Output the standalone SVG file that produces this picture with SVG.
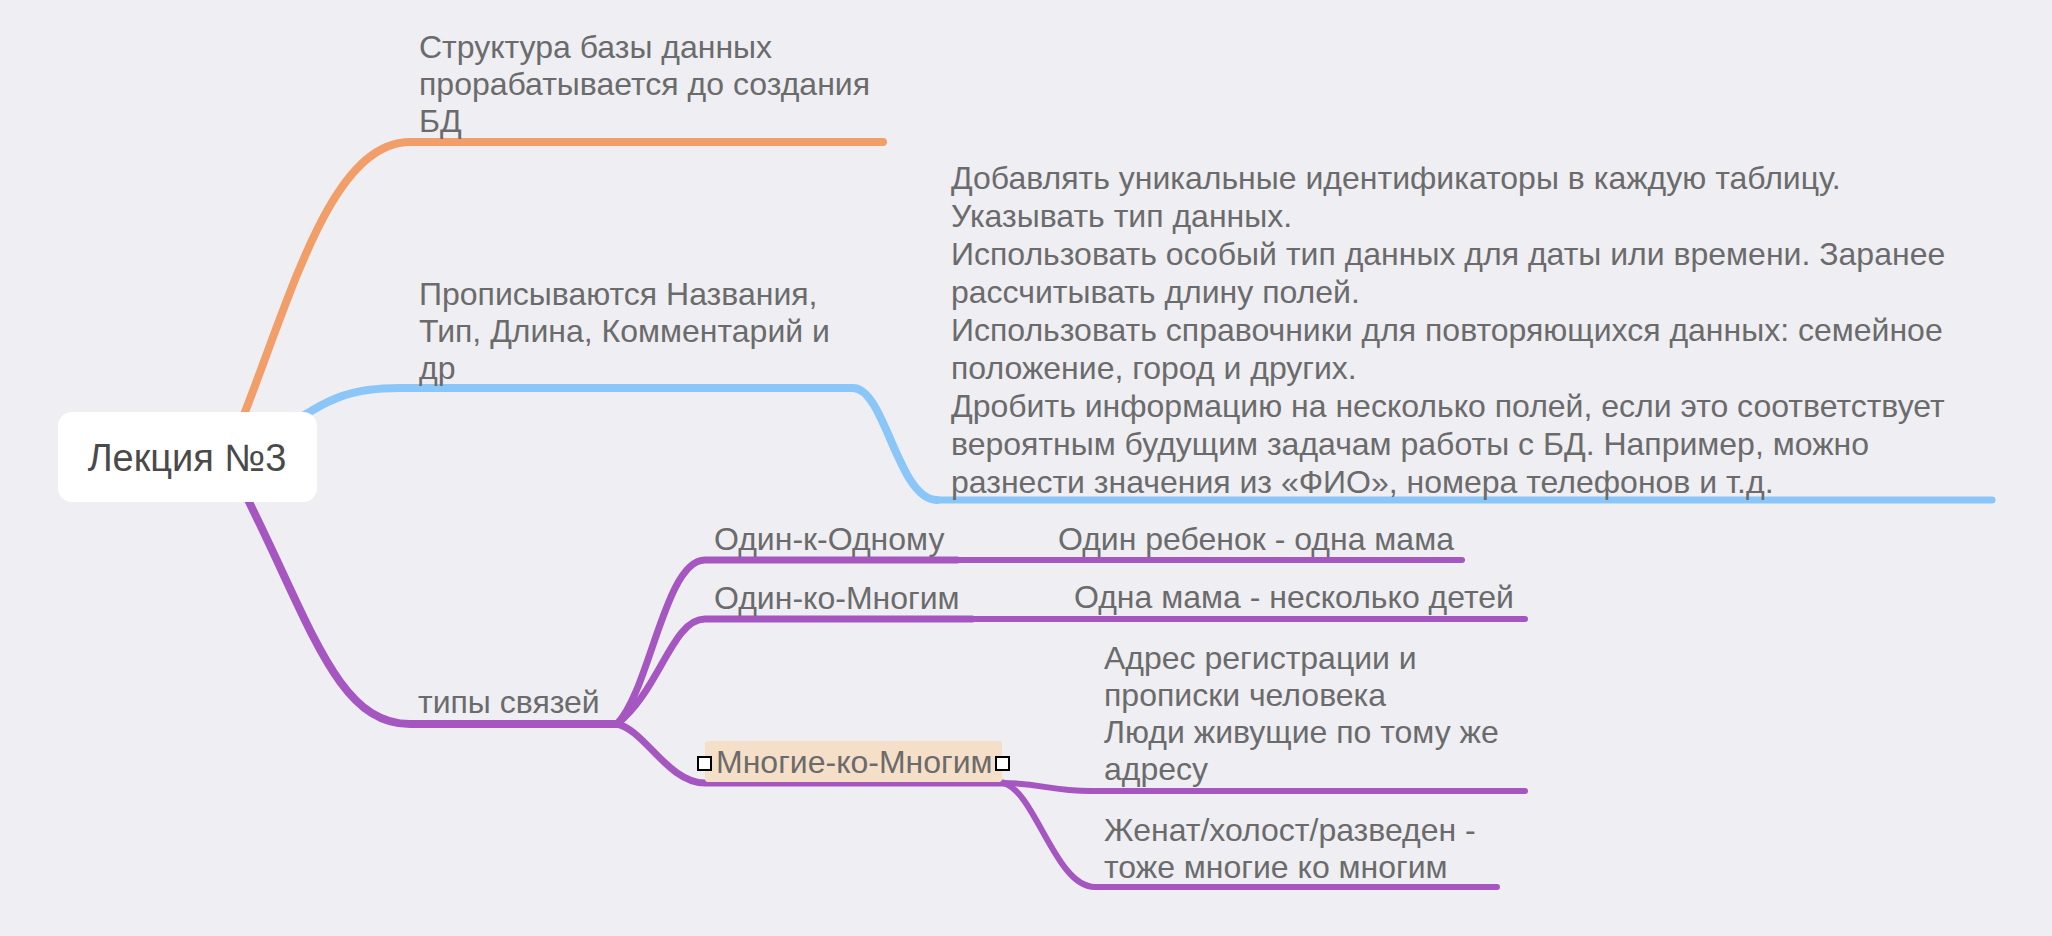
<svg xmlns="http://www.w3.org/2000/svg" width="2052" height="936" viewBox="0 0 2052 936">
<style>
.t{font-family:"Liberation Sans",Arial,sans-serif;font-size:32px;fill:#6b6b6b}
.c{font-family:"Liberation Sans",Arial,sans-serif;font-size:38px;fill:#4a4a4a}
.ln{fill:none;stroke-linecap:round;stroke-linejoin:round}
.o{stroke:#f29e69}
.b{stroke:#8ac7f8}
.p{stroke:#a556c1}
.sel{fill:#fff;stroke:#000;stroke-width:2}
</style>
<rect width="2052" height="936" fill="#eeeef3"/>
<g id="connectors">
<path class="ln o" stroke-width="8" d="M238,430 C290,300 330,142 410,142 L883,142"/>
<path class="ln b" stroke-width="8" d="M280,432 C330,395 355,388 400,388 L853,388 C885,388 898,500 937,500"/>
<path class="ln b" stroke-width="7" d="M937,500 L1992,500"/>
<path class="ln p" stroke-width="8" d="M238,480 C310,620 335,724 410,724 L617,724"/>
<path class="ln p" stroke-width="7" d="M617,724 C650,690 665,560 705,560 L957,560"/>
<path class="ln p" stroke-width="7" d="M617,724 C660,690 672,619 705,619 L972,619"/>
<path class="ln p" stroke-width="7" d="M617,724 C645,730 668,783 705,783 L1003,783"/>
<path class="ln p" stroke-width="6" d="M957,560 L1462,560"/>
<path class="ln p" stroke-width="6" d="M972,619 L1525,619"/>
<path class="ln p" stroke-width="6" d="M1003,783 C1040,783 1050,791 1091,791 L1525,791"/>
<path class="ln p" stroke-width="6" d="M1003,783 C1035,790 1055,887 1095,887 L1497,887"/>
</g>
<g id="root">
<rect x="58" y="412" width="259" height="90" rx="14" fill="#ffffff"/>
<text class="c" x="187" y="471" text-anchor="middle">Лекция №3</text>
</g>
<g id="n-structure">
<text class="t" x="419" y="58">Структура базы данных</text>
<text class="t" x="419" y="95">прорабатывается до создания</text>
<text class="t" x="419" y="132">БД</text>
</g>
<g id="n-fields">
<text class="t" x="419" y="305">Прописываются Названия,</text>
<text class="t" x="419" y="342">Тип, Длина, Комментарий и</text>
<text class="t" x="419" y="379">др</text>
</g>
<g id="n-rules">
<text class="t" x="951" y="189">Добавлять уникальные идентификаторы в каждую таблицу.</text>
<text class="t" x="951" y="227">Указывать тип данных.</text>
<text class="t" x="951" y="265">Использовать особый тип данных для даты или времени. Заранее</text>
<text class="t" x="951" y="303">рассчитывать длину полей.</text>
<text class="t" x="951" y="341">Использовать справочники для повторяющихся данных: семейное</text>
<text class="t" x="951" y="379">положение, город и других.</text>
<text class="t" x="951" y="417">Дробить информацию на несколько полей, если это соответствует</text>
<text class="t" x="951" y="455">вероятным будущим задачам работы с БД. Например, можно</text>
<text class="t" x="951" y="493">разнести значения из «ФИО», номера телефонов и т.д.</text>
</g>
<g id="n-types">
<text class="t" x="418" y="713">типы связей</text>
</g>
<g id="n-one-one">
<text class="t" x="714" y="550">Один-к-Одному</text>
</g>
<g id="n-one-one-ex">
<text class="t" x="1058" y="550">Один ребенок - одна мама</text>
</g>
<g id="n-one-many">
<text class="t" x="714" y="609">Один-ко-Многим</text>
</g>
<g id="n-one-many-ex">
<text class="t" x="1074" y="608">Одна мама - несколько детей</text>
</g>
<g id="n-many-many">
<rect x="705" y="741" width="297" height="41" rx="3" fill="#f6dfc9"/>
<text class="t" x="716" y="773">Многие-ко-Многим</text>
<rect class="sel" x="698" y="757" width="13" height="13"/>
<rect class="sel" x="996" y="757" width="13" height="13"/>
</g>
<g id="n-address">
<text class="t" x="1104" y="669">Адрес регистрации и</text>
<text class="t" x="1104" y="706">прописки человека</text>
<text class="t" x="1104" y="743">Люди живущие по тому же</text>
<text class="t" x="1104" y="780">адресу</text>
</g>
<g id="n-married">
<text class="t" x="1104" y="841">Женат/холост/разведен -</text>
<text class="t" x="1104" y="878">тоже многие ко многим</text>
</g>
</svg>
